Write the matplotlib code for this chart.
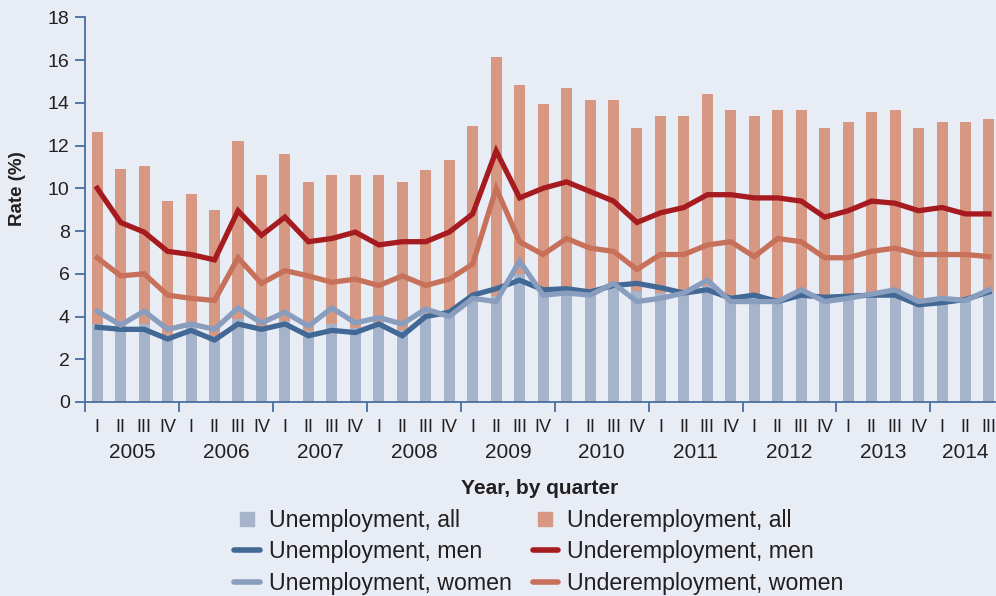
import matplotlib
matplotlib.use("Agg")
import matplotlib.pyplot as plt
from matplotlib.lines import Line2D
import numpy as np

plt.rcParams['font.family'] = ['Liberation Sans', 'DejaVu Sans']

years = ['2005', '2006', '2007', '2008', '2009', '2010', '2011', '2012', '2013', '2014']
quarter_names = ['I', 'II', 'III', 'IV']
n_quarters = 39  # 2005 Q1 .. 2014 Q3

unemp_all = [3.65, 3.45, 3.65, 3.15, 3.5, 3.1, 3.9, 3.5, 3.8, 3.3, 3.65, 3.45,
             3.75, 3.35, 4.15, 4.1, 4.95, 4.95, 6.0, 5.05, 5.15, 5.05, 5.45, 5.2,
             5.1, 5.1, 5.45, 4.8, 4.85, 4.7, 5.1, 4.8, 4.9, 5.0, 5.1, 4.6, 4.75, 4.8, 5.2]
underemp_all = [12.65, 10.9, 11.05, 9.4, 9.75, 9.0, 12.2, 10.6, 11.6, 10.3, 10.6, 10.6, 10.6,
                10.3, 10.85, 11.3, 12.9, 16.15, 14.85, 13.95, 14.7, 14.15, 14.15, 12.8, 13.4, 13.4,
                14.4, 13.65, 13.4, 13.65, 13.65, 12.8, 13.1, 13.55, 13.65, 12.8, 13.1, 13.1, 13.25]
unemp_men = [3.5, 3.4, 3.4, 2.95, 3.35, 2.9, 3.65, 3.4, 3.65, 3.1, 3.35, 3.25,
             3.65, 3.1, 4.0, 4.2, 5.0, 5.3, 5.7, 5.25, 5.3, 5.15, 5.45, 5.55,
             5.35, 5.1, 5.25, 4.85, 5.0, 4.7, 5.0, 4.9, 4.95, 5.0, 5.0, 4.55, 4.65, 4.8, 5.15]
unemp_women = [4.25, 3.6, 4.25, 3.4, 3.65, 3.4, 4.4, 3.7, 4.2, 3.55, 4.4, 3.7,
               3.95, 3.65, 4.35, 4.0, 4.85, 4.7, 6.6, 5.0, 5.1, 5.0, 5.55, 4.7,
               4.85, 5.1, 5.7, 4.7, 4.7, 4.7, 5.25, 4.7, 4.85, 5.05, 5.25, 4.7, 4.85, 4.75, 5.25]
underemp_men = [10.0, 8.4, 7.95, 7.05, 6.9, 6.65, 8.95, 7.8, 8.65, 7.5, 7.65, 7.95, 7.35,
                7.5, 7.5, 7.95, 8.8, 11.75, 9.55, 10.0, 10.3, 9.85, 9.4, 8.4, 8.85, 9.1,
                9.7, 9.7, 9.55, 9.55, 9.4, 8.65, 8.95, 9.4, 9.3, 8.95, 9.1, 8.8, 8.8]
underemp_women = [6.75, 5.9, 6.0, 5.0, 4.85, 4.75, 6.75, 5.55, 6.15, 5.9, 5.6, 5.75, 5.45,
                  5.9, 5.45, 5.75, 6.45, 10.0, 7.5, 6.9, 7.65, 7.2, 7.05, 6.2, 6.9, 6.9,
                  7.35, 7.5, 6.8, 7.65, 7.5, 6.75, 6.75, 7.05, 7.2, 6.9, 6.9, 6.9, 6.8]

BG = '#e8ecf4'
AXC = '#4a6ea0'
C_UA = '#a6b4cb'
C_DA = '#d79883'
C_UM = '#426896'
C_UW = '#899dbe'
C_DM = '#a51b1f'
C_DW = '#c7705a'
TXT = '#231f20'

fig = plt.figure(figsize=(9.96, 5.96), dpi=100, facecolor=BG)
ax = fig.add_axes([85/996, 1 - 402/596, 1 - 85/996, (402 - 17.3)/596])
ax.set_facecolor(BG)

x = np.arange(n_quarters)
w = 0.47
ax.bar(x, underemp_all, width=w, color=C_DA, zorder=1)
ax.bar(x, unemp_all, width=w, color=C_UA, zorder=2)
lw = 3.8
ax.plot(x, unemp_men, color=C_UM, lw=lw, zorder=3, solid_joinstyle='miter')
ax.plot(x, unemp_women, color=C_UW, lw=lw, zorder=4, solid_joinstyle='miter')
ax.plot(x, underemp_women, color=C_DW, lw=lw, zorder=5, solid_joinstyle='miter')
ax.plot(x, underemp_men, color=C_DM, lw=lw, zorder=6, solid_joinstyle='miter')

ax.set_xlim(-0.52, 38.3)
ax.set_ylim(0, 18)
ax.set_yticks(np.arange(0, 19, 2))
ax.tick_params(axis='y', length=7, width=1.3, color=AXC, labelsize=14, labelcolor=TXT, pad=4)
ax.set_xticks(np.arange(-0.5, n_quarters, 4))
ax.set_xticklabels([])
ax.tick_params(axis='x', length=7.5, width=1.3, color=AXC)
for s in ['top', 'right']:
    ax.spines[s].set_visible(False)
for s in ['left', 'bottom']:
    ax.spines[s].set_color(AXC)
    ax.spines[s].set_linewidth(1.3)

# quarter labels
for i in range(n_quarters):
    ax.annotate(quarter_names[i % 4], xy=(i, 0), xycoords=('data', 'axes fraction'),
                xytext=(0, -26 * 0.72), textcoords='offset points',
                ha='center', va='center', fontsize=13, color=TXT)
# year labels
for k, yr in enumerate(years):
    nq = min(4, n_quarters - 4 * k)
    xc = 4 * k + (nq - 1) / 2
    ax.annotate(yr, xy=(xc, 0), xycoords=('data', 'axes fraction'),
                xytext=(0, -50 * 0.72), textcoords='offset points',
                ha='center', va='center', fontsize=15, color=TXT)

fig.text(540/996, 1 - 488/596, 'Year, by quarter', ha='center', va='center',
         fontsize=15, fontweight='bold', color=TXT)
fig.text(18/996, 1 - 189/596, 'Rate (%)', ha='center', va='center', rotation=90,
         fontsize=13.5, fontweight='bold', color=TXT)

handles = [
    Line2D([], [], marker='s', ls='none', color=C_UA, markersize=9.5),
    Line2D([], [], color=C_UM, lw=4, solid_capstyle='round'),
    Line2D([], [], color=C_UW, lw=4, solid_capstyle='round'),
    Line2D([], [], marker='s', ls='none', color=C_DA, markersize=9.5),
    Line2D([], [], color=C_DM, lw=4, solid_capstyle='round'),
    Line2D([], [], color=C_DW, lw=4, solid_capstyle='round'),
]
labels = ['Unemployment, all', 'Unemployment, men', 'Unemployment, women',
          'Underemployment, all', 'Underemployment, men', 'Underemployment, women']
leg = fig.legend(handles, labels, ncol=2, frameon=False, fontsize=16.7,
                 loc='upper left', bbox_to_anchor=(234/996, 1 - 509/596),
                 handlelength=1.1, handletextpad=0.4, columnspacing=0.9,
                 labelspacing=0.36, borderaxespad=0, borderpad=0)
for t in leg.get_texts():
    t.set_color(TXT)

fig.savefig('out.png', dpi=100, facecolor=BG)
